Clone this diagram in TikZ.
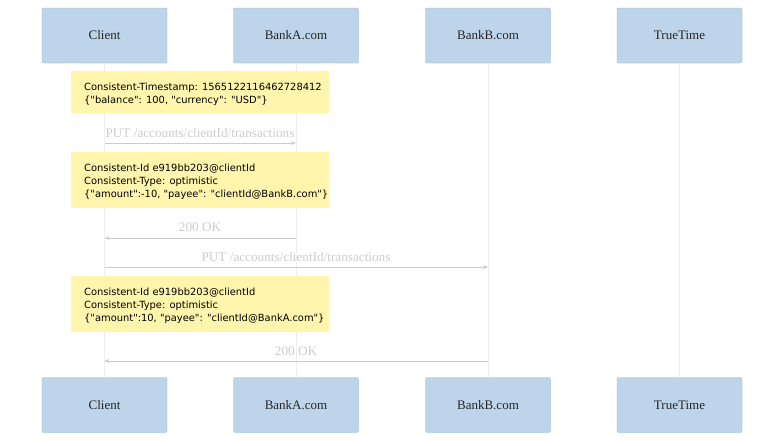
\documentclass[tikz,border=0pt]{standalone}
\usepackage{fontspec}
\setmainfont{Liberation Serif}
\newfontfamily\notefont{DejaVu Sans}
\usetikzlibrary{arrows.meta}
\definecolor{actfill}{HTML}{BED4EA}
\definecolor{actdraw}{HTML}{8DB5DE}
\definecolor{notefill}{HTML}{FFF5AD}
\definecolor{lifecol}{HTML}{EEEEEE}
\definecolor{msgcol}{HTML}{CCCCCC}
\tikzset{
  actor/.style={draw=actdraw, fill=actfill, rounded corners=2pt, minimum width=125pt, minimum height=55pt, inner sep=0pt, font=\fontsize{13}{15}\selectfont, text=black!85},
  notebox/.style={fill=notefill, minimum width=258pt, inner sep=0pt},
  notetext/.style={anchor=north west, align=left, inner sep=0pt, font=\notefont\fontsize{9.9}{13.3}\selectfont, text=black},
  lifeline/.style={draw=lifecol, line width=0.8pt},
  msg/.style={draw=msgcol, line width=0.8pt, -{Stealth[length=5pt,width=4pt]}},
  msglabel/.style={text=msgcol, font=\fontsize{13.2}{15}\selectfont, inner sep=0pt}
}
\begin{document}
\begin{tikzpicture}[x=1pt,y=-1pt]
\useasboundingbox (0,0) rectangle (784,445);
% actors top
\node[actor] (ct) at (104.5,35.5) {Client};
\node[actor] (at) at (296,35.5) {BankA.com};
\node[actor] (bt) at (488,35.5) {BankB.com};
\node[actor] (tt) at (679.5,35.5) {TrueTime};
% actors bottom
\node[actor] (cb) at (104.5,405) {Client};
\node[actor] (ab) at (296,405) {BankA.com};
\node[actor] (bb) at (488,405) {BankB.com};
\node[actor] (tb) at (679.5,405) {TrueTime};
% lifelines
\draw[lifeline] (ct) -- (cb);
\draw[lifeline] (at) -- (ab);
\draw[lifeline] (bt) -- (bb);
\draw[lifeline] (tt) -- (tb);
% note 1
\node[notebox, minimum height=42pt] (n1) at (200,92) {};
\node[notetext] (n1t) at (84,82.5) {Consistent-Timestamp: 1565122116462728412\\\{"balance": 100, "currency": "USD"\}};
% message 1
\coordinate (m1s) at (104.5,143);
\coordinate (m1e) at (296,143);
\draw[msg] (m1s) -- (m1e);
\node[msglabel] (l1) at (200,133) {PUT /accounts/clientId/transactions};
% note 2
\node[notebox, minimum height=56pt] (n2) at (200,180) {};
\node[notetext] (n2t) at (84,163.5) {Consistent-Id e919bb203@clientId\\Consistent-Type: optimistic\\\{"amount":-10, "payee": "clientId@BankB.com"\}};
% message 2
\coordinate (m2s) at (296,238);
\coordinate (m2e) at (104.5,238);
\draw[msg] (m2s) -- (m2e);
\node[msglabel] (l2) at (200,227) {200 OK};
% message 3
\coordinate (m3s) at (104.5,267);
\coordinate (m3e) at (488,267);
\draw[msg] (m3s) -- (m3e);
\node[msglabel] (l3) at (296,257) {PUT /accounts/clientId/transactions};
% note 3
\node[notebox, minimum height=56pt] (n3) at (200,304) {};
\node[notetext] (n3t) at (84,287.5) {Consistent-Id e919bb203@clientId\\Consistent-Type: optimistic\\\{"amount":10, "payee": "clientId@BankA.com"\}};
% message 4
\coordinate (m4s) at (488,361);
\coordinate (m4e) at (104.5,361);
\draw[msg] (m4s) -- (m4e);
\node[msglabel] (l4) at (296,351) {200 OK};
\end{tikzpicture}
\end{document}
